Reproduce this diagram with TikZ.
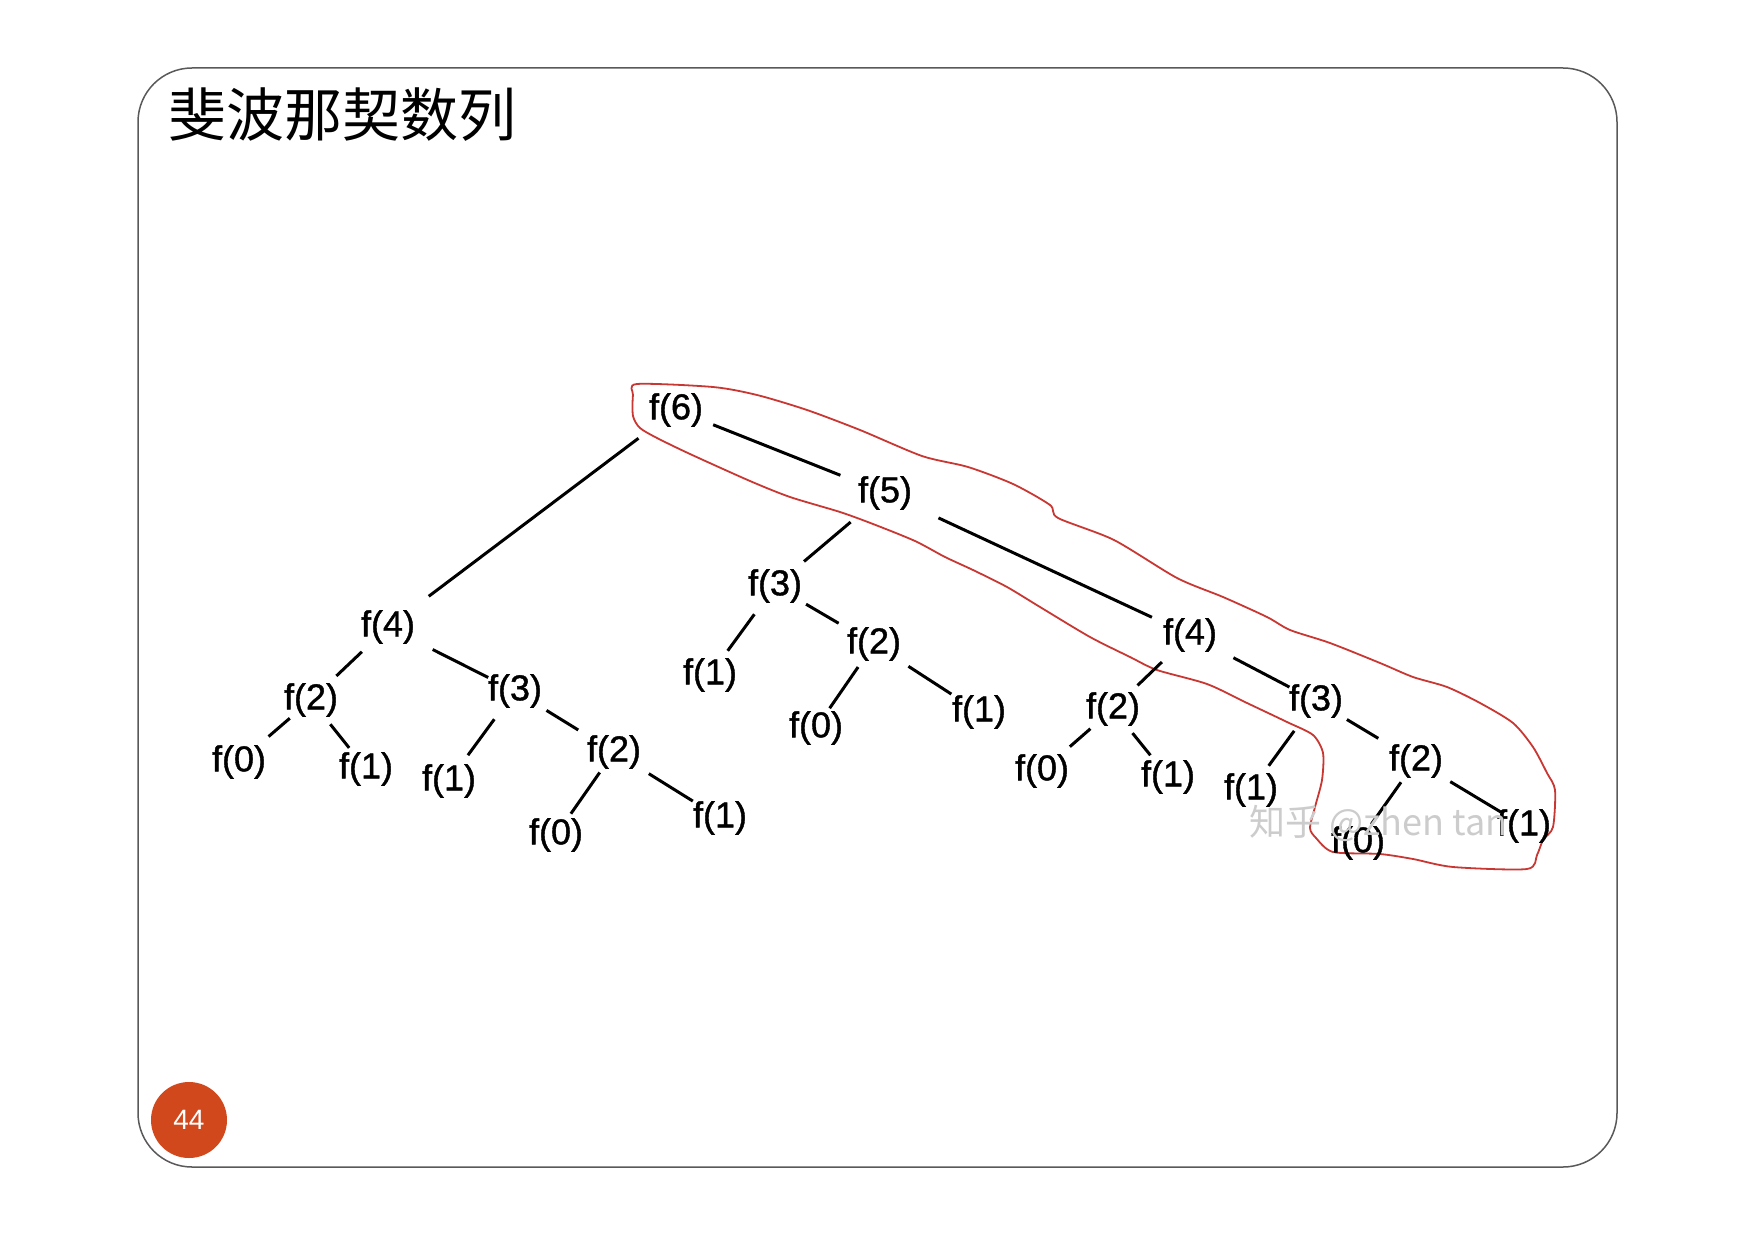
\documentclass[tikz,border=0pt]{standalone}
\usepackage{fontspec}
\setmainfont{Liberation Sans}
\newfontfamily\treefont[FakeBold=1.1]{Liberation Sans}
\newfontfamily\cjk{Noto Sans CJK SC}
\definecolor{loopred}{RGB}{200,55,50}
\definecolor{pagecirc}{RGB}{208,72,28}
\begin{document}
\begin{tikzpicture}[x=1pt,y=-1pt,
  fn/.style={inner sep=0pt, font=\treefont\fontsize{36}{40}\selectfont},
  edge/.style={line width=3pt, black},
  gap/.style 2 args={shorten <=#1pt, shorten >=#2pt},
  loopline/.style={draw=loopred, line width=1.8pt},
  frame/.style={draw=black!65, line width=1.5pt, rounded corners=54pt}]
\useasboundingbox (0,0) rectangle (1755,1241);
\draw[frame] (138,68) rectangle (1617,1167);
\node[font=\cjk\fontsize{58}{62}\selectfont, anchor=west] (title) at (165,115) {斐波那契数列};
\node[circle, fill=pagecirc, minimum size=76pt, inner sep=0pt, text=white, font=\fontsize{28}{32}\selectfont] (page) at (189,1120) {44};

% red loop
\draw[loopline] plot[smooth cycle, tension=0.45] coordinates {
 (637,384) (713,387) (757,395) (807,410) (860,430) (922,456) (968,467) (1013,484)
 (1050,505) (1058,518) (1114,540) (1177,578) (1223,597) (1267,617) (1290,630)
 (1330,643) (1380,663) (1413,677) (1447,687) (1480,703) (1513,723) (1533,747)
 (1547,773) (1555,790) (1553,827) (1543,840) (1537,855) (1527,869) (1453,867)
 (1413,859) (1380,854) (1333,852) (1316,838) (1310,828) (1315,807) (1322,780)
 (1323,753) (1313,735) (1287,722) (1247,703) (1207,684) (1157,670) (1130,657)
 (1090,637) (1040,607) (1007,587) (973,570) (945,557) (915,541) (873,524)
 (840,512) (790,497) (750,481) (690,454) (657,438) (640,428) (633,416) (633,395)};

% nodes
\node[fn] (f6)  at (676,410) {f(6)};
\node[fn] (f5)  at (885,493) {f(5)};
\node[fn] (f4L) at (388,627) {f(4)};
\node[fn] (f3M) at (775,586) {f(3)};
\node[fn] (f4R) at (1190,635) {f(4)};
\node[fn] (f2a) at (311,700) {f(2)};
\node[fn] (f3L) at (515,691) {f(3)};
\node[fn] (f0a) at (239,762) {f(0)};
\node[fn] (f1a) at (366,769) {f(1)};
\node[fn] (f1b) at (449,781) {f(1)};
\node[fn] (f2b) at (614,752) {f(2)};
\node[fn] (f0b) at (556,835) {f(0)};
\node[fn] (f1c) at (720,818) {f(1)};
\node[fn] (f1d) at (710,675) {f(1)};
\node[fn] (f2c) at (874,644) {f(2)};
\node[fn] (f0c) at (816,728) {f(0)};
\node[fn] (f1e) at (979,712) {f(1)};
\node[fn] (f2d) at (1113,709) {f(2)};
\node[fn] (f3R) at (1316,701) {f(3)};
\node[fn] (f0d) at (1042,771) {f(0)};
\node[fn] (f1f) at (1168,777) {f(1)};
\node[fn] (f1g) at (1251,790) {f(1)};
\node[fn] (f2e) at (1416,761) {f(2)};
\node[fn] (f0e) at (1358,843) {f(0)};
\node[fn] (f1h) at (1524,826) {f(1)};

% edges
\draw[edge, gap={47}{51}] (f6.center) -- (f4L.center);
\draw[edge, gap={40}{48}] (f6.center) -- (f5.center);
\draw[edge, gap={45}{38}] (f5.center) -- (f3M.center);
\draw[edge, gap={59}{42}] (f5.center) -- (f4R.center);
\draw[edge, gap={36}{35}] (f4L.center) -- (f2a.center);
\draw[edge, gap={50}{30}] (f4L.center) -- (f3L.center);
\draw[edge, gap={28}{39}] (f2a.center) -- (f0a.center);
\draw[edge, gap={31}{27}] (f2a.center) -- (f1a.center);
\draw[edge, gap={35}{32}] (f3L.center) -- (f1b.center);
\draw[edge, gap={37}{42}] (f3L.center) -- (f2b.center);
\draw[edge, gap={25}{26}] (f2b.center) -- (f0b.center);
\draw[edge, gap={41}{32}] (f2b.center) -- (f1c.center);
\draw[edge, gap={35}{30}] (f3M.center) -- (f1d.center);
\draw[edge, gap={36}{41}] (f3M.center) -- (f2c.center);
\draw[edge, gap={28}{24}] (f2c.center) -- (f0c.center);
\draw[edge, gap={41}{33}] (f2c.center) -- (f1e.center);
\draw[edge, gap={39}{34}] (f4R.center) -- (f2d.center);
\draw[edge, gap={49}{30}] (f4R.center) -- (f3R.center);
\draw[edge, gap={30}{37}] (f2d.center) -- (f0d.center);
\draw[edge, gap={31}{28}] (f2d.center) -- (f1f.center);
\draw[edge, gap={37}{30}] (f3R.center) -- (f1g.center);
\draw[edge, gap={36}{44}] (f3R.center) -- (f2e.center);
\draw[edge, gap={26}{23}] (f2e.center) -- (f0e.center);
\draw[edge, gap={40}{27}] (f2e.center) -- (f1h.center);

% watermark
\node[anchor=west, text=black!20, font=\cjk\fontsize{36}{40}\selectfont] (wm) at (1246,823) {知乎 @zhen tan};
\end{tikzpicture}
\end{document}
